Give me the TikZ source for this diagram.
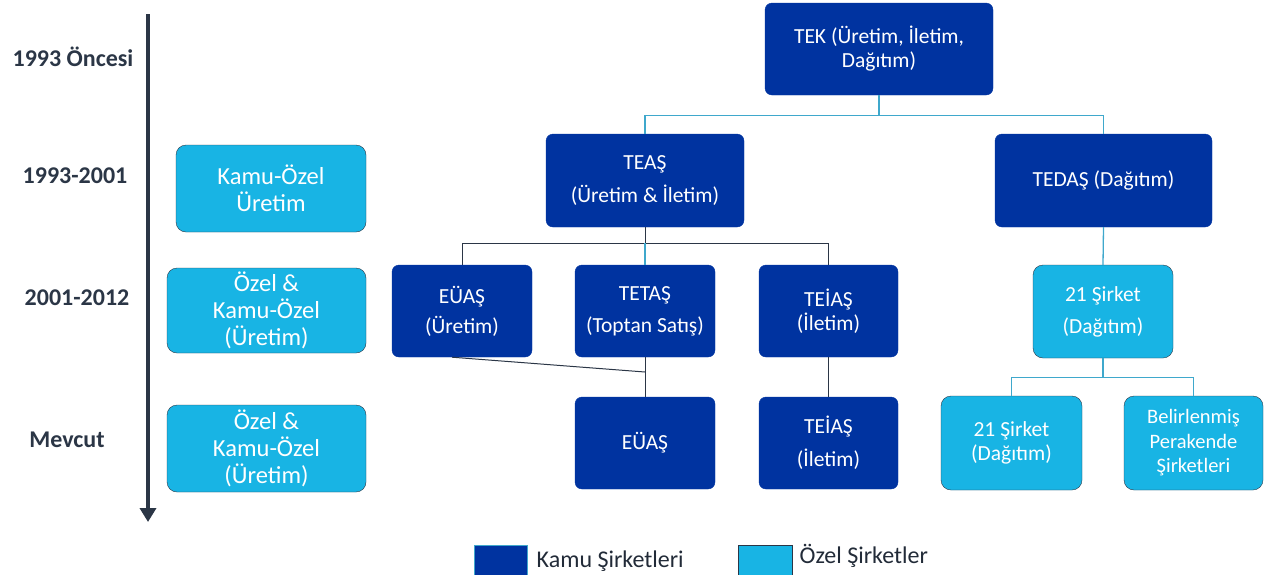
\documentclass[tikz,border=0pt]{standalone}
\usepackage{fontspec}
\setmainfont{Carlito}
\usepackage{tikz}
\usetikzlibrary{positioning,arrows.meta}
\definecolor{kamu}{HTML}{0033A0}
\definecolor{ozel}{HTML}{18B4E4}
\definecolor{hat}{HTML}{3FA8CC}
\definecolor{koyu}{HTML}{2B3646}

\begin{document}
\begin{tikzpicture}[x=1pt,y=-1pt,every node/.style={font=\fontsize{21.5}{24}\selectfont},
    kbox/.style={draw=kamu,fill=kamu,text=white,rounded corners=7pt,align=center,minimum height=92pt,inner sep=2pt},
    obox/.style={draw=koyu,fill=ozel,text=white,rounded corners=10pt,align=center,minimum height=90pt,inner sep=2pt},
    buyuk/.style={font=\fontsize{24.5}{27}\selectfont},
    donem/.style={font=\fontsize{24}{27}\selectfont\bfseries,text=koyu},
    lejant/.style={font=\fontsize{24}{27}\selectfont,text=koyu!80!black},
    acik/.style={draw=hat,line width=1.3pt},
    gri/.style={draw=koyu,line width=1pt}]
    \useasboundingbox (0,0) rectangle (1267,574);
    % zaman ekseni
    \coordinate (zbas) at (148,14);
    \coordinate (zson) at (148,522);
    \draw[koyu,line width=4pt,-{Triangle[length=14pt,width=16pt]}] (zbas) -- (zson);
    \node[donem] (d1) at (73,57) {1993 Öncesi};
    \node[donem] (d2) at (75,176) {1993-2001};
    \node[donem] (d3) at (77,298) {2001-2012};
    \node[donem] (d4) at (67,440) {Mevcut};
    % uretim kutulari
    \node[obox,buyuk,minimum width=190pt,minimum height=87pt] (u1) at (271,188.5) {Kamu-Özel\\Üretim};
    \node[obox,buyuk,minimum width=199pt,minimum height=85pt] (u2) at (266.5,310.5) {Özel \&\\Kamu-Özel\\(Üretim)};
    \node[obox,buyuk,minimum width=199pt,minimum height=87pt] (u3) at (266.5,448.5) {Özel \&\\Kamu-Özel\\(Üretim)};
    % kamu yapisi
    \node[kbox,minimum width=228pt] (tek) at (879,49) {TEK (Üretim, İletim,\\Dağıtım)};
    \node[kbox,minimum width=198pt,minimum height=93pt] (teas) at (645,180.5) {TEAŞ\\[9pt](Üretim \& İletim)};
    \node[kbox,minimum width=217pt,minimum height=93pt] (tedas) at (1103.5,180.5) {TEDAŞ (Dağıtım)};
    \node[kbox,minimum width=140pt] (euas) at (462,311) {EÜAŞ\\[6pt](Üretim)};
    \node[kbox,minimum width=140pt] (tetas) at (645,311) {TETAŞ\\[8pt](Toptan Satış)};
    \node[kbox,minimum width=139pt] (teias) at (828.5,311) {TEİAŞ\\(İletim)};
    \node[obox,minimum width=140pt,minimum height=93pt] (sirket) at (1103,311.5) {21 Şirket\\[8pt](Dağıtım)};
    \node[kbox,minimum width=140pt] (euasb) at (645,443) {EÜAŞ};
    \node[kbox,minimum width=139pt] (teiasb) at (828.5,443) {TEİAŞ\\[9pt](İletim)};
    \node[obox,minimum width=141pt,minimum height=94pt] (sirketb) at (1011.5,443) {21 Şirket\\(Dağıtım)};
    \node[obox,minimum width=139pt,minimum height=94pt,font=\fontsize{20.5}{24.5}\selectfont] (perakende) at (1193.5,443) {Belirlenmiş\\Perakende\\Şirketleri};
    % baglantilar
    \draw[acik] (tek.south) -- ++(0,20) -| (teas.north);
    \draw[acik] (tek.south) -- ++(0,20) -| (tedas.north);
    \draw[gri] (teas.south) -- ++(0,16) -| (euas.north);
    \draw[gri] (teas.south) -- ++(0,16) -| (teias.north);
    \draw[acik] (tetas.north) -- ++(0,-22);
    \draw[acik] (tedas.south) -- (sirket.north);
    \coordinate (birlesme) at (645,372);
    \draw[gri] ([xshift=-10pt]euas.south) -- (birlesme);
    \draw[gri] (tetas.south) -- (euasb.north);
    \draw[gri] (teias.south) -- (teiasb.north);
    \draw[acik] (sirket.south) -- ++(0,19) -| (sirketb.north);
    \draw[acik] (sirket.south) -- ++(0,19) -| (perakende.north);
    % aciklama
    \node[fill=kamu,draw=hat,minimum width=53pt,minimum height=30pt,inner sep=0pt] (kamulej) at (500.5,560) {};
    \node[lejant,right=6pt of kamulej,yshift=-1pt] (kamuyazi) {Kamu Şirketleri};
    \node[fill=ozel,draw=koyu,minimum width=54pt,minimum height=30pt,inner sep=0pt] (ozellej) at (765,560) {};
    \node[lejant,right=4pt of ozellej,yshift=4pt] (ozelyazi) {Özel Şirketler};
\end{tikzpicture}
\end{document}
